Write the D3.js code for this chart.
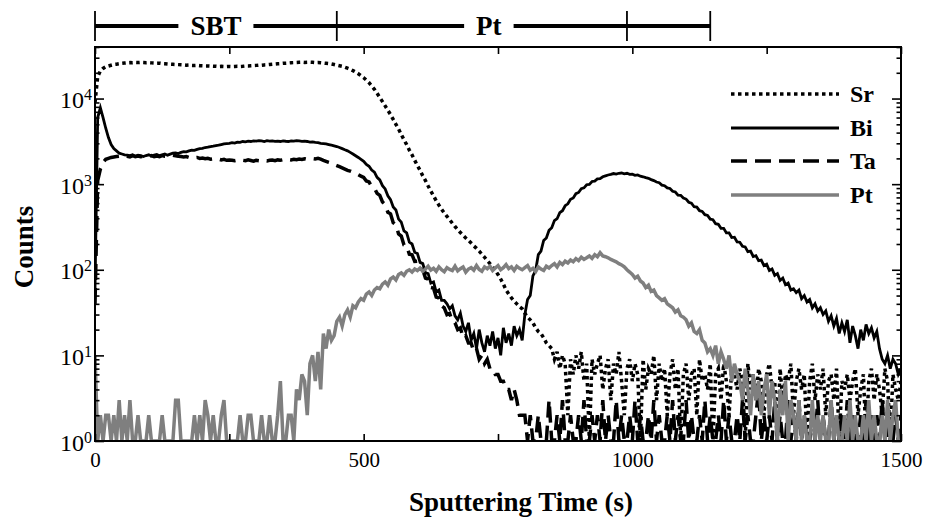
<!DOCTYPE html>
<html>
<head>
<meta charset="utf-8">
<script src="https://cdn.jsdelivr.net/npm/d3@7"></script>
<style>
  body { margin: 0; background: #fff; }
  svg text { font-family: "Liberation Serif", "Times New Roman", serif; fill: #000; }
</style>
</head>
<body>
<div id="chart"></div>
<script>
//// data (one sample every dt seconds, starting at 0 s)
const dt = 5;

const sr = [
  9000, 18000, 21000, 22500, 23500, 24000, 24500, 25000, 25200, 25500,
  25800, 26000, 26200, 26300, 26200, 26400, 26300, 26500, 26400, 26200,
  26300, 26100, 26000, 25800, 25900, 25600, 25500, 25400, 25200, 25100,
  25000, 24900, 24800, 24700, 24500, 24600, 24400, 24300, 24400, 24200,
  24100, 24000, 24000, 23900, 23800, 23900, 23700, 23800, 23700, 23600,
  23700, 23600, 23700, 23800, 23700, 23800, 24000, 24000, 24200, 24300,
  24400, 24600, 24500, 24700, 24800, 25000, 25200, 25300, 25500, 25600,
  25800, 25900, 26000, 26200, 26300, 26400, 26500, 26600, 26400, 26500,
  26600, 26500, 26300, 26400, 26200, 26000, 25800, 25600, 25400, 25000,
  24600, 24200, 23800, 23200, 22600, 22000, 21200, 20400, 19500, 18500,
  17500, 16400, 15300, 14000, 12800, 11500, 10300, 9200, 8200, 7300,
  6500, 5700, 5000, 4400, 3800, 3300, 2900, 2500, 2200, 1900,
  1650, 1450, 1250, 1100, 950, 830, 730, 640, 570, 510,
  460, 420, 385, 350, 320, 295, 272, 252, 235, 220,
  205, 190, 178, 165, 152, 140, 128, 118, 108, 98,
  88, 78, 68, 58, 52, 47, 43, 40, 37, 35,
  31, 28, 26, 24, 21, 19, 18, 16, 14, 13,
  12, 9, 11, 7, 10, 8, 2, 9, 6, 10,
  7, 11, 5, 8, 1, 9, 6, 8, 10, 4,
  7, 9, 3, 8, 6, 11, 5, 2, 7, 9,
  5, 8, 6, 1, 9, 4, 7, 6, 10, 3,
  8, 5, 7, 2, 6, 9, 4, 7, 1, 6,
  8, 3, 6, 7, 2, 9, 5, 6, 4, 8,
  1, 6, 7, 3, 8, 5, 2, 7, 6, 4,
  7, 5, 1, 8, 4, 6, 3, 7, 5, 2,
  6, 8, 4, 5, 1, 7, 3, 6, 5, 8,
  2, 5, 7, 4, 6, 1, 5, 8, 3, 6,
  4, 7, 2, 5, 6, 3, 7, 1, 5, 4,
  6, 3, 5, 7, 2, 4, 6, 1, 5, 7,
  3, 6, 4, 2, 7, 5, 1, 6, 4, 3,
  5
];

const bi = [
  60, 6000, 7800, 6000, 4500, 3500, 2900, 2600, 2450, 2300,
  2250, 2200, 2180, 2150, 2200, 2120, 2180, 2150, 2100, 2160,
  2200, 2130, 2180, 2220, 2150, 2200, 2250, 2180, 2240, 2300,
  2320, 2280, 2350, 2400, 2380, 2450, 2500, 2480, 2550, 2600,
  2620, 2680, 2700, 2750, 2780, 2820, 2850, 2900, 2950, 2980,
  3000, 3050, 3020, 3100, 3080, 3150, 3120, 3180, 3150, 3200,
  3180, 3220, 3200, 3150, 3220, 3180, 3200, 3160, 3180, 3150,
  3200, 3170, 3150, 3200, 3180, 3220, 3200, 3160, 3180, 3150,
  3100, 3120, 3080, 3050, 3000, 2980, 2950, 2900, 2850, 2800,
  2750, 2680, 2600, 2520, 2450, 2350, 2250, 2150, 2050, 1950,
  1850, 1700, 1620, 1460, 1380, 1200, 1120, 960, 880, 730,
  660, 540, 500, 390, 360, 285, 270, 210, 200, 160,
  155, 122, 118, 92, 90, 70, 72, 55, 58, 44,
  44, 40, 35, 38, 29, 26, 31, 22, 19, 24,
  15, 18, 12, 20, 14, 11, 17, 13, 19, 12,
  16, 10, 21, 14, 18, 13, 22, 17, 20, 15,
  30, 45, 50, 85, 98, 150, 165, 220, 235, 290,
  310, 375, 395, 465, 490, 560, 590, 665, 690, 775,
  800, 885, 905, 985, 995, 1075, 1085, 1150, 1160, 1220,
  1250, 1280, 1300, 1330, 1310, 1340, 1350, 1320, 1340, 1300,
  1310, 1270, 1280, 1240, 1220, 1190, 1170, 1130, 1100, 1060,
  1040, 975, 960, 905, 890, 825, 810, 745, 740, 690,
  670, 615, 600, 545, 540, 490, 480, 440, 430, 390,
  385, 345, 340, 305, 305, 270, 270, 238, 240, 212,
  210, 188, 185, 163, 165, 143, 146, 128, 130, 112,
  116, 98, 102, 86, 90, 75, 80, 67, 70, 58,
  60, 54, 58, 46, 50, 42, 45, 36, 40, 33,
  36, 30, 33, 25, 29, 22, 27, 18, 24, 19,
  26, 14, 22, 17, 12, 20, 15, 23, 18, 21,
  16, 19, 12, 9, 8, 10, 7, 9, 8, 6,
  7
];

const ta = [
  40, 1100, 1500, 1800, 1950, 2000, 2050, 2080, 2100, 2120,
  2100, 2150, 2120, 2080, 2150, 2100, 2130, 2090, 2120, 2080,
  2100, 2150, 2090, 2130, 2100, 2160, 2120, 2100, 2140, 2180,
  2150, 2120, 2100, 2080, 2100, 2050, 2070, 2030, 2050, 2000,
  2020, 1980, 2000, 1960, 1980, 1940, 1960, 1920, 1950, 1900,
  1920, 1900, 1880, 1910, 1870, 1900, 1880, 1920, 1890, 1860,
  1900, 1880, 1920, 1890, 1870, 1900, 1910, 1880, 1920, 1900,
  1930, 1900, 1940, 1920, 1950, 1930, 1960, 1940, 1980, 1950,
  1960, 1990, 1970, 2000, 1960, 1900, 1850, 1800, 1760, 1700,
  1650, 1600, 1550, 1500, 1450, 1420, 1380, 1340, 1290, 1240,
  1200, 1090, 1060, 940, 900, 780, 740, 620, 580, 470,
  450, 355, 335, 262, 248, 195, 190, 152, 150, 125,
  126, 102, 100, 80, 78, 62, 61, 48, 47, 38,
  36, 30, 31, 25, 24, 20, 21, 16, 17, 14,
  14, 11, 12, 9, 10, 8, 9, 7, 7, 6,
  6, 5, 5, 4, 4, 3, 4, 3, 2, 2,
  2, 1, 2, 1, 1, 2, 1, 1, 1, 3,
  1, 1, 2, 1, 3, 1, 1, 2, 1, 1,
  2, 1, 3, 1, 1, 2, 1, 2, 1, 3,
  1, 2, 1, 1, 3, 1, 2, 1, 1, 2,
  1, 3, 1, 2, 1, 1, 2, 1, 3, 1,
  2, 1, 1, 2, 1, 3, 1, 2, 1, 1,
  3, 1, 2, 1, 1, 2, 1, 3, 1, 2,
  1, 1, 2, 1, 3, 1, 2, 1, 1, 2,
  1, 3, 1, 2, 1, 1, 2, 4, 1, 2,
  1, 2, 1, 3, 1, 2, 1, 1, 3, 1,
  2, 1, 3, 1, 2, 1, 1, 2, 1, 3,
  1, 2, 1, 1, 3, 1, 2, 1, 2, 1,
  3, 1, 2, 1, 1, 2, 1, 3, 1, 2,
  1, 2, 1, 3, 1, 1, 2, 1, 2, 1,
  2
];

const pt = [
  10, 1, 2, 1, 2, 2, 1, 2, 1, 3,
  1, 2, 1, 3, 1, 1, 2, 1, 1, 1,
  2, 1, 1, 1, 1, 2, 1, 1, 1, 1,
  3, 3, 1, 1, 1, 1, 1, 2, 1, 2,
  1, 3, 2, 1, 2, 1, 1, 2, 3, 1,
  1, 1, 1, 1, 2, 1, 1, 2, 2, 1,
  1, 1, 2, 1, 1, 2, 1, 1, 2, 5,
  1, 1, 2, 2, 1, 4, 3, 6, 5, 2,
  8, 10, 5, 11, 4, 18, 12, 20, 15, 17,
  25, 28, 22, 30, 34, 28, 38, 36, 42, 46,
  44, 52, 55, 50, 58, 62, 60, 68, 72, 66,
  78, 82, 76, 88, 92, 86, 96, 100, 94, 102,
  98, 105, 96, 102, 110, 99, 104, 96, 108, 100,
  95, 106, 101, 98, 110, 97, 103, 108, 94, 102,
  106, 99, 112, 101, 96, 108, 103, 110, 98, 105,
  112, 100, 106, 115, 103, 108, 98, 110, 104, 100,
  106, 112, 99, 104, 95, 108, 102, 98, 110, 105,
  112, 118, 108, 122, 115, 126, 120, 130, 124, 135,
  128, 140, 132, 138, 145, 136, 150, 142, 158, 145,
  142, 138, 132, 128, 124, 118, 114, 108, 100, 94,
  88, 80, 84, 74, 70, 62, 66, 56, 58, 50,
  47, 44, 46, 40, 38, 36, 32, 34, 29, 28,
  26, 22, 24, 19, 18, 20, 15, 14, 11, 12,
  10, 13, 8, 11, 9, 7, 10, 5, 8, 6,
  5, 3, 7, 4, 2, 6, 3, 5, 2, 4,
  6, 2, 5, 3, 1, 4, 2, 5, 1, 3,
  2, 1, 3, 1, 2, 1, 1, 3, 1, 2,
  1, 2, 1, 1, 3, 1, 2, 1, 1, 2,
  1, 3, 1, 2, 1, 1, 2, 1, 3, 1,
  2, 1, 1, 2, 1, 3, 1, 2, 3, 1,
  1
];

const seriesNames = ["Sr", "Bi", "Ta", "Pt"];
const xTicks = [0, 250, 500, 750, 1000, 1250, 1500];
const xLabelTicks = [0, 500, 1000, 1500];
const yDecades = [1, 10, 100, 1000, 10000];
const layerEdges = [0, 450, 990, 1145];
const layerNames = ["SBT", "Pt"];
const layerLabelAt = [225, 733];

//// chart
var width = 925, height = 526;
var plot = {left: 95, right: 901, top: 47, bottom: 441};

var svg = d3.select("#chart")
  .append("svg")
    .attr("width", width)
    .attr("height", height);

var xScale = d3.scaleLinear()
  .domain([0, 1500])
  .range([plot.left, plot.right]);

var yScale = d3.scaleLog()
  .domain([1, 4e4])
  .range([plot.bottom, plot.top]);

svg.append("clipPath").attr("id", "clip")
  .append("rect")
    .attr("x", plot.left).attr("y", plot.top)
    .attr("width", plot.right - plot.left)
    .attr("height", plot.bottom - plot.top);

// styles per series
var styles = {
  Sr: {values: sr, stroke: "#000", width: 3.5, dash: "3.5,3.5"},
  Bi: {values: bi, stroke: "#000", width: 2.8, dash: null},
  Ta: {values: ta, stroke: "#000", width: 3.5, dash: "16,8"},
  Pt: {values: pt, stroke: "#7f7f7f", width: 3.5, dash: null}
};

var line = d3.line()
  .x((d, i) => xScale(i * dt))
  .y(d => yScale(Math.max(1, d)));

var curves = svg.append("g").attr("clip-path", "url(#clip)");
seriesNames.forEach(function(name) {
  var s = styles[name];
  curves.append("path")
    .datum(s.values)
    .attr("fill", "none")
    .attr("stroke", s.stroke)
    .attr("stroke-width", s.width)
    .attr("stroke-linejoin", "miter")
    .attr("stroke-dasharray", s.dash)
    .attr("d", line);
});

//// axes (ticks inside, mirrored)
function styleAxis(g) {
  g.select(".domain").remove();
  g.selectAll(".tick line").attr("stroke", "#000").attr("stroke-width", 1.6);
}

svg.append("g")
  .attr("transform", "translate(0," + plot.bottom + ")")
  .call(d3.axisBottom(xScale).tickValues(xTicks)
    .tickSizeInner(-7).tickSizeOuter(0).tickPadding(11)
    .tickFormat(d => xLabelTicks.includes(d) ? d : ""))
  .call(styleAxis)
  .selectAll("text").attr("font-size", 21).attr("fill", "#000");

svg.append("g")
  .attr("transform", "translate(0," + plot.top + ")")
  .call(d3.axisTop(xScale).tickValues(xTicks)
    .tickSizeInner(-7).tickSizeOuter(0).tickFormat(""))
  .call(styleAxis);

var yMinor = [];
yDecades.forEach(function(dec) {
  for (var k = 2; k <= 9; k++) if (dec * k <= 4e4) yMinor.push(dec * k);
});

[["left", plot.left, d3.axisLeft], ["right", plot.right, d3.axisRight]].forEach(function(a) {
  var major = svg.append("g")
    .attr("transform", "translate(" + a[1] + ",0)")
    .call(a[2](yScale).tickValues(yDecades)
      .tickSizeInner(-9).tickSizeOuter(0).tickPadding(3)
      .tickFormat(a[0] === "left" ? d3.format("d") : ""))
    .call(styleAxis);
  svg.append("g")
    .attr("transform", "translate(" + a[1] + ",0)")
    .call(a[2](yScale).tickValues(yMinor)
      .tickSizeInner(-4.5).tickSizeOuter(0).tickFormat(""))
    .call(styleAxis);
  if (a[0] === "left") {
    major.selectAll(".tick text").each(function(d) {
      var t = d3.select(this).text(null)
        .attr("font-size", 24).attr("fill", "#000").attr("dy", "0.38em");
      t.append("tspan").text("10");
      t.append("tspan").attr("dy", "-0.5em").attr("font-size", 16)
        .text(Math.round(Math.log10(d)));
    });
  }
});

// frame
svg.append("rect")
  .attr("x", plot.left).attr("y", plot.top)
  .attr("width", plot.right - plot.left)
  .attr("height", plot.bottom - plot.top)
  .attr("fill", "none")
  .attr("stroke", "#000")
  .attr("stroke-width", 2);

//// axis titles
svg.append("text")
  .attr("x", 521).attr("y", 511)
  .attr("text-anchor", "middle")
  .attr("font-size", 27).attr("font-weight", "bold")
  .text("Sputtering Time (s)");

svg.append("text")
  .attr("transform", "translate(33,247) rotate(-90)")
  .attr("text-anchor", "middle")
  .attr("font-size", 27).attr("font-weight", "bold")
  .text("Counts");

//// legend
var legendY = [94, 128, 161, 195];
var legend = svg.append("g");
seriesNames.forEach(function(name, i) {
  var s = styles[name];
  legend.append("line")
    .attr("x1", 731).attr("x2", 839)
    .attr("y1", legendY[i]).attr("y2", legendY[i])
    .attr("stroke", s.stroke)
    .attr("stroke-width", s.width)
    .attr("stroke-dasharray", s.dash);
  legend.append("text")
    .attr("x", 850).attr("y", legendY[i])
    .attr("dy", "0.35em")
    .attr("font-size", 24).attr("font-weight", "bold")
    .text(name);
});

//// layer bar on top
var barY = 26;
var bar = svg.append("g");
var gaps = [];
layerNames.forEach(function(name, i) {
  var lbl = bar.append("text")
    .attr("x", xScale(layerLabelAt[i])).attr("y", barY)
    .attr("dy", "0.33em")
    .attr("text-anchor", "middle")
    .attr("font-size", 27).attr("font-weight", "bold")
    .text(name);
  var w = lbl.node().getComputedTextLength();
  gaps.push([xScale(layerLabelAt[i]) - w / 2 - 12, xScale(layerLabelAt[i]) + w / 2 + 12]);
});
var segStart = xScale(layerEdges[0]);
gaps.forEach(function(g) {
  bar.append("line").attr("x1", segStart).attr("x2", g[0])
    .attr("y1", barY).attr("y2", barY)
    .attr("stroke", "#000").attr("stroke-width", 4);
  segStart = g[1];
});
bar.append("line").attr("x1", segStart).attr("x2", xScale(layerEdges[layerEdges.length - 1]))
  .attr("y1", barY).attr("y2", barY)
  .attr("stroke", "#000").attr("stroke-width", 4);
layerEdges.forEach(function(e) {
  bar.append("line")
    .attr("x1", xScale(e)).attr("x2", xScale(e))
    .attr("y1", barY - 15).attr("y2", barY + 15)
    .attr("stroke", "#000").attr("stroke-width", 1.8);
});
</script>
</body>
</html>
